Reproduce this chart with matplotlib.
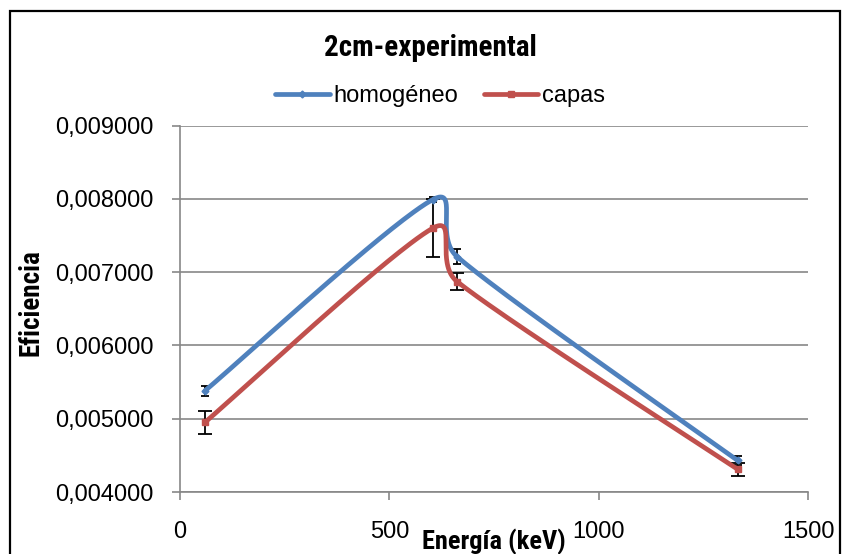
import numpy as np
import matplotlib
matplotlib.use("Agg")
import matplotlib.pyplot as plt
from matplotlib import font_manager as fm
from matplotlib.ticker import FuncFormatter
from matplotlib.patches import Rectangle
from matplotlib.lines import Line2D

# ---------------- data ----------------
energy = [59.5, 604, 662, 1332]
homogeneo = [0.00538, 0.00799, 0.00721, 0.00443]
homogeneo_err = [0.00007, 0.00004, 0.00010, 0.00006]
capas = [0.00495, 0.00760, 0.00687, 0.00431]
capas_err = [0.00016, 0.00040, 0.00012, 0.00009]
series_names = ["homogéneo", "capas"]
title = "2cm-experimental"
xlabel = "Energía (keV)"
ylabel = "Eficiencia"
xticks = [0, 500, 1000, 1500]
yticks = [0.004, 0.005, 0.006, 0.007, 0.008, 0.009]


def pick(names):
    for n in names:
        try:
            fm.findfont(fm.FontProperties(family=n), fallback_to_default=False)
            return n
        except Exception:
            pass
    return "DejaVu Sans"


regular = pick(["Liberation Sans", "Arial", "DejaVu Sans"])
narrow = pick(["Liberation Sans Narrow", "Arial Narrow", "Roboto Condensed", "Liberation Sans"])

plt.rcParams["font.family"] = [regular, "DejaVu Sans"]

W, H = 847, 554
fig = plt.figure(figsize=(W / 100, H / 100), dpi=100)
ax = fig.add_axes([180 / W, 1 - 492 / H, 628 / W, (492 - 125.5) / H])
ax.set_xlim(0, 1500)
ax.set_ylim(0.004, 0.009)

BLUE = "#4F81BD"
RED = "#C0504D"
GRID = "#878787"


def excel_smooth(xs, ys, n=60):
    """Excel-like Bezier smoothing computed in display space."""
    pts = ax.transData.transform(np.column_stack([xs, ys]))
    m = len(pts)
    out = [pts[0]]
    for i in range(m - 1):
        p0 = pts[i - 1] if i > 0 else pts[i]
        p1 = pts[i]
        p2 = pts[i + 1]
        p3 = pts[i + 2] if i + 2 < m else pts[i + 1]
        d12 = np.linalg.norm(p2 - p1)
        d02 = np.linalg.norm(p2 - p0)
        d13 = np.linalg.norm(p3 - p1)
        f1 = 1 / 6 if d02 == 0 else min(1 / 6, d12 / (2 * d02))
        f2 = 1 / 6 if d13 == 0 else min(1 / 6, d12 / (2 * d13))
        c1 = p1 + f1 * (p2 - p0)
        c2 = p2 - f2 * (p3 - p1)
        t = np.linspace(0, 1, n)[1:, None]
        seg = ((1 - t) ** 3) * p1 + 3 * ((1 - t) ** 2) * t * c1 + 3 * (1 - t) * t ** 2 * c2 + t ** 3 * p2
        out.extend(seg)
    out = np.array(out)
    data = ax.transData.inverted().transform(out)
    return data[:, 0], data[:, 1]


# grid and axes styling
ax.set_axisbelow(True)
ax.yaxis.grid(True, color=GRID, lw=1.2)
ax.xaxis.grid(False)
for s in ["top", "right"]:
    ax.spines[s].set_visible(False)
for s in ["left", "bottom"]:
    ax.spines[s].set_color(GRID)
    ax.spines[s].set_linewidth(1.2)

ax.set_xticks(xticks)
ax.set_yticks(yticks)
ax.yaxis.set_major_formatter(FuncFormatter(lambda v, p: f"{v:.6f}".replace(".", ",")))
ax.tick_params(axis="y", direction="out", length=6, width=1.2, color=GRID,
               labelsize=17, pad=13, labelcolor="black")
ax.tick_params(axis="x", direction="out", length=6, width=1.2, color=GRID,
               labelsize=17, pad=15, labelcolor="black")

# error bars (below lines)
ax.errorbar(energy, homogeneo, yerr=homogeneo_err, fmt="none", ecolor="black",
            elinewidth=1.3, capsize=3, capthick=1.3, zorder=2)
ax.errorbar(energy, capas, yerr=capas_err, fmt="none", ecolor="black",
            elinewidth=1.3, capsize=5, capthick=1.3, zorder=2)

# smoothed lines
bx, by = excel_smooth(energy, homogeneo)
rx, ry = excel_smooth(energy, capas)
ax.plot(bx, by, color=BLUE, lw=3.4, solid_capstyle="round", zorder=3)
ax.plot(energy, homogeneo, ls="none", marker="D", ms=3.5, color=BLUE, zorder=4)
ax.plot(rx, ry, color=RED, lw=3.4, solid_capstyle="round", zorder=3)
ax.plot(energy, capas, ls="none", marker="s", ms=5, color=RED, zorder=4)

# legend
handles = [
    Line2D([], [], color=BLUE, lw=3.4, marker="D", ms=3.5, solid_capstyle="round"),
    Line2D([], [], color=RED, lw=3.4, marker="s", ms=5, solid_capstyle="round"),
]
fig.legend(handles, series_names, loc="center", bbox_to_anchor=(440 / W, 1 - 96 / H),
           ncol=2, frameon=False, fontsize=17, handlelength=2.3, handletextpad=0.15,
           columnspacing=1.1, numpoints=1)

# texts
fig.text(430 / W, 1 - 56.5 / H, title, ha="center", va="baseline",
         fontsize=21, fontweight="bold", family=[narrow, "DejaVu Sans"])
fig.text(494 / W, 1 - 549 / H, xlabel, ha="center", va="baseline",
         fontsize=19, fontweight="bold", family=[narrow, "DejaVu Sans"])
fig.text(31 / W, 1 - 303 / H, ylabel, ha="center", va="center", rotation=90,
         fontsize=19.5, fontweight="bold", family=[narrow, "DejaVu Sans"])

# outer chart border
fig.patches.append(Rectangle((10 / W, -0.05), 830 / W, 1.05 - 10.5 / H,
                             transform=fig.transFigure, fill=False,
                             edgecolor="black", lw=1.6))

fig.savefig("out.png", dpi=100)
